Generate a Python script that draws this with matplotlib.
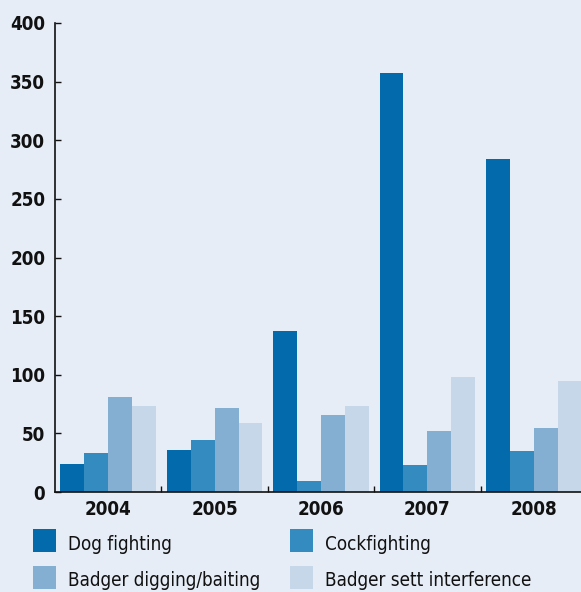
import matplotlib
matplotlib.use("Agg")
import matplotlib.pyplot as plt
from matplotlib.patches import Rectangle
import numpy as np

years = ["2004", "2005", "2006", "2007", "2008"]
series_names = ["Dog fighting", "Cockfighting", "Badger digging/baiting", "Badger sett interference"]
dog_fighting = [24, 36, 137, 357, 284]
cockfighting = [33, 44, 9, 23, 35]
badger_digging = [81, 72, 66, 52, 55]
badger_sett = [73, 59, 73, 98, 95]
y_ticks = [0, 50, 100, 150, 200, 250, 300, 350, 400]

colors = ["#036aab", "#338bc0", "#85aed3", "#c6d7e9"]
bg = "#e6edf6"
ink = "#111111"

plt.rcParams["font.family"] = ["DejaVu Sans"]
plt.rcParams["font.stretch"] = "condensed"

W, H = 581, 592
fig = plt.figure(figsize=(W / 100, H / 100), dpi=100, facecolor=bg)
ax = fig.add_axes([55 / W, 1 - 492 / H, 532 / W, (492 - 23) / H])
ax.set_facecolor(bg)

data = [dog_fighting, cockfighting, badger_digging, badger_sett]
x = np.arange(len(years))
bw = 0.225
for i, (vals, c) in enumerate(zip(data, colors)):
    ax.bar(x + (i - 1.5) * bw, vals, width=bw, color=c, linewidth=0)

ax.set_xlim(-0.5, len(years) - 0.5)
ax.set_ylim(0, 400)
tick_font = dict(fontsize=13.5, fontweight="bold", fontstretch="condensed", color=ink)
ax.set_yticks(y_ticks)
ax.set_yticklabels([str(v) for v in y_ticks], **tick_font)
ax.set_xticks(x)
ax.set_xticklabels(years, **tick_font)
ax.set_xticks(np.arange(0.5, len(years) - 0.5, 1), minor=True)
ax.tick_params(axis="x", which="major", length=0, pad=6)
ax.tick_params(axis="x", which="minor", direction="in", length=4, width=1, color=ink)
ax.tick_params(axis="y", direction="in", length=4, width=1, color=ink, pad=7)
for s in ["top", "right"]:
    ax.spines[s].set_visible(False)
for s in ["left", "bottom"]:
    ax.spines[s].set_color(ink)
    ax.spines[s].set_linewidth(1.2)

# legend built from the series colours
legend_pos = [(33, 529), (290, 529), (33, 566), (290, 566)]
for (px, py), name, c in zip(legend_pos, series_names, colors):
    fig.patches.append(Rectangle((px / W, 1 - (py + 23) / H), 23 / W, 23 / H,
                                 transform=fig.transFigure, color=c, linewidth=0))
    fig.text((px + 35) / W, 1 - (py + 15) / H, name, fontsize=13.5,
             fontstretch="condensed", va="center", ha="left", color=ink)

fig.savefig("out.png", dpi=100, facecolor=bg)
